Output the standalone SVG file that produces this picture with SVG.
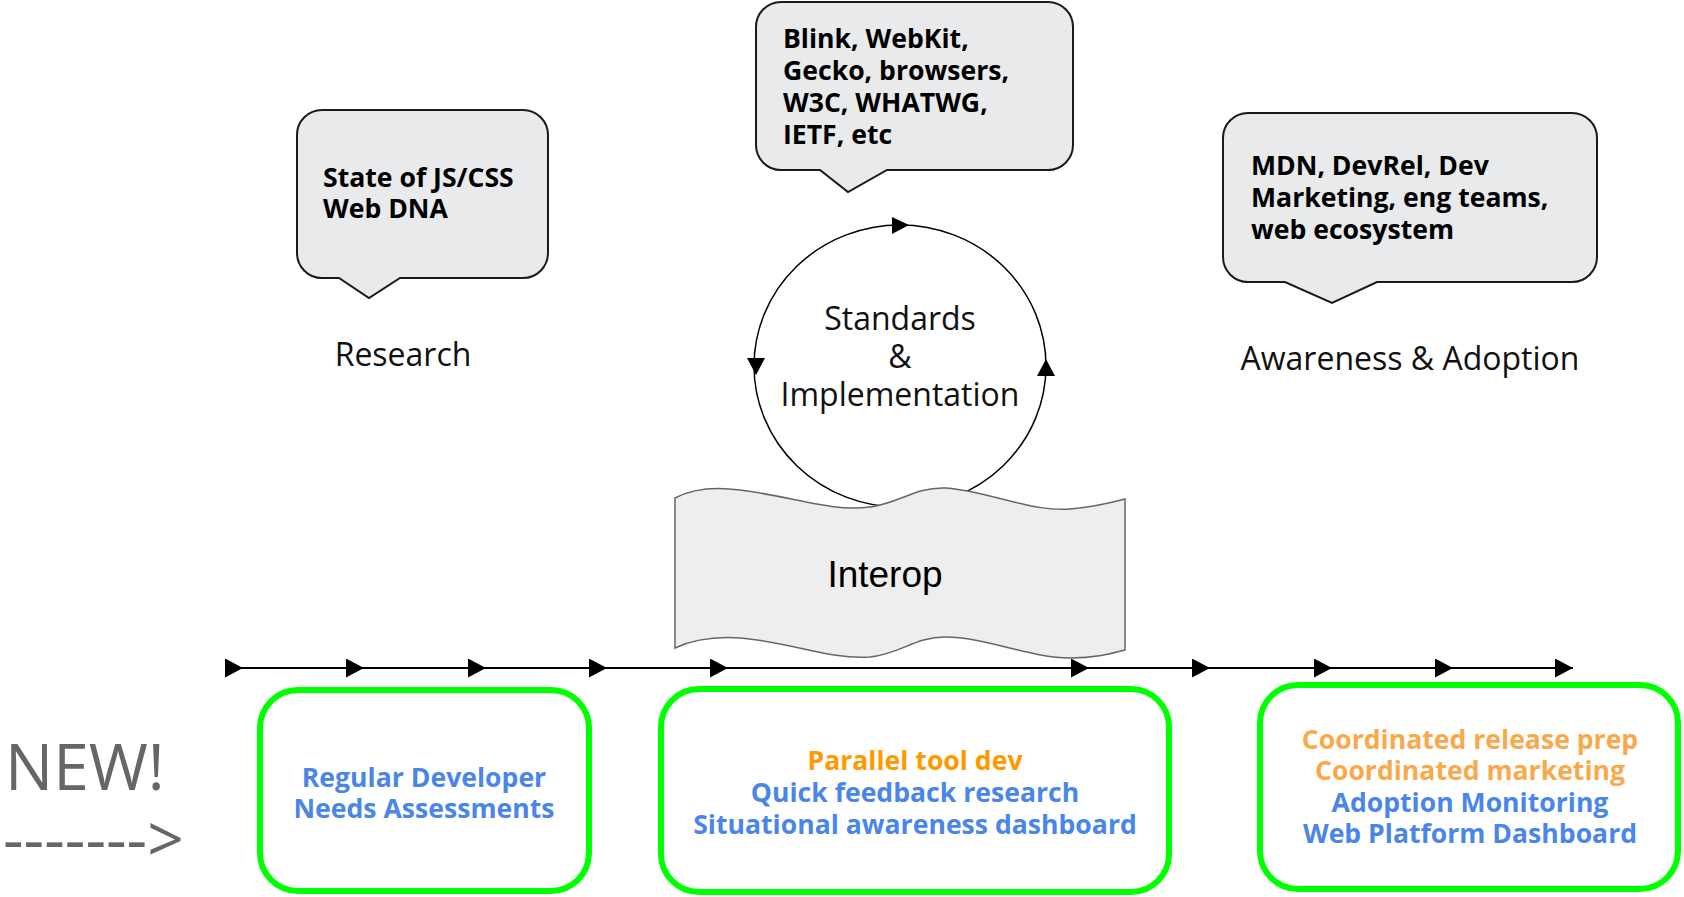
<svg xmlns="http://www.w3.org/2000/svg" width="1684" height="897" viewBox="0 0 1684 897">
<defs>
<style>
.callout{fill:#e8eaeb;stroke:#1a1a1a;stroke-width:2}
.ctext{font-family:'Open Sans','Noto Sans',sans-serif;font-weight:700;font-size:26.6px;fill:#000}
.label{font-family:'Open Sans','Noto Sans',sans-serif;font-size:32px;fill:#111;text-anchor:middle}
.gbox{fill:#fff;stroke:#00ff00;stroke-width:6}
.btext{font-family:'Open Sans','Noto Sans',sans-serif;font-weight:700;font-size:26.6px;text-anchor:middle}
.blue{fill:#4a86e8}
.orange{fill:#ff9900}
.lorange{fill:#f9a94b}
.new{font-family:'Open Sans','Noto Sans',sans-serif;font-size:64px;fill:#666}
.ah{fill:#000}
</style>
<marker id="tri" markerUnits="userSpaceOnUse" markerWidth="18" markerHeight="19" refX="18" refY="9.5" orient="auto" viewBox="0 0 18 19">
<path d="M0,0 L18,9.5 L0,19 Z" fill="#000"/>
</marker>
</defs>
<rect width="1684" height="897" fill="#fff"/>

<g id="callout-research">
<path class="callout" d="M322,110 H523 A25,25 0 0 1 548,135 V253 A25,25 0 0 1 523,278 H400 L369,298 L339,278 H322 A25,25 0 0 1 297,253 V135 A25,25 0 0 1 322,110 Z"/>
<text class="ctext" x="323" y="187">State of JS/CSS</text>
<text class="ctext" x="323" y="218">Web DNA</text>
</g>

<g id="callout-standards">
<path class="callout" d="M781,2 H1048 A25,25 0 0 1 1073,27 V145 A25,25 0 0 1 1048,170 H887 L848,192 L820,170 H781 A25,25 0 0 1 756,145 V27 A25,25 0 0 1 781,2 Z"/>
<text class="ctext" x="783" y="48">Blink, WebKit,</text>
<text class="ctext" x="783" y="80">Gecko, browsers,</text>
<text class="ctext" x="783" y="112">W3C, WHATWG,</text>
<text class="ctext" x="783" y="144">IETF, etc</text>
</g>

<g id="callout-awareness">
<path class="callout" d="M1248,113 H1572 A25,25 0 0 1 1597,138 V257 A25,25 0 0 1 1572,282 H1377 L1332,303 L1285,282 H1248 A25,25 0 0 1 1223,257 V138 A25,25 0 0 1 1248,113 Z"/>
<text class="ctext" x="1251" y="175">MDN, DevRel, Dev</text>
<text class="ctext" x="1251" y="207">Marketing, eng teams,</text>
<text class="ctext" x="1251" y="239">web ecosystem</text>
</g>

<g id="label-research">
<text class="label" x="403" y="366">Research</text>
</g>
<g id="label-awareness">
<text class="label" x="1410" y="370">Awareness &amp; Adoption</text>
</g>

<g id="cycle">
<ellipse cx="900" cy="366" rx="146" ry="141" fill="none" stroke="#000" stroke-width="1.5"/>
<polygon class="ah" points="892,217 909,225 892,234"/>
<polygon class="ah" points="747,358 765,358 756,375"/>
<polygon class="ah" points="1037,376 1055,376 1046,359"/>
<text class="label" x="900" y="330">Standards</text>
<text class="label" x="900" y="368">&amp;</text>
<text class="label" x="900" y="406">Implementation</text>
</g>

<g id="interop">
<path d="M675,498 C690,490 710,486 740,490 C790,496 830,512 870,507 C900,503 915,487 945,488 C985,490 1030,512 1070,509 C1095,507 1110,503 1125,499 L1125,650 C1110,654 1095,658 1070,658 C1030,658 985,637 945,637 C915,637 900,654 870,657 C830,660 790,642 740,638 C710,636 690,641 675,648 Z" fill="#eeeeee" stroke="#666" stroke-width="1.5"/>
<text x="885" y="587" font-family="'Liberation Sans',Arial,sans-serif" font-size="37" text-anchor="middle" fill="#000">Interop</text>
</g>

<g id="connectors">
<polyline points="226,668 243,668 364,668 486,668 607,668 728,668 1089,668 1210,668 1332,668 1453,668 1573,668" fill="none" stroke="#000" stroke-width="1.8" marker-mid="url(#tri)" marker-end="url(#tri)"/>
</g>

<g id="box-research">
<rect class="gbox" x="260" y="690" width="329" height="201" rx="38"/>
<text class="btext blue" x="424" y="787">Regular Developer</text>
<text class="btext blue" x="424" y="818">Needs Assessments</text>
</g>

<g id="box-standards">
<rect class="gbox" x="661" y="689" width="508" height="203" rx="38"/>
<text class="btext orange" x="915" y="770">Parallel tool dev</text>
<text class="btext blue" x="915" y="802">Quick feedback research</text>
<text class="btext blue" x="915" y="834">Situational awareness dashboard</text>
</g>

<g id="box-awareness">
<rect class="gbox" x="1260" y="685" width="418" height="204" rx="38"/>
<text class="btext lorange" x="1470" y="749">Coordinated release prep</text>
<text class="btext lorange" x="1470" y="780">Coordinated marketing</text>
<text class="btext blue" x="1470" y="812">Adoption Monitoring</text>
<text class="btext blue" x="1470" y="843">Web Platform Dashboard</text>
</g>

<g id="new-label">
<text class="new" x="5" y="790">NEW!</text>
<text class="new" x="3" y="862">-------&gt;</text>
</g>
</svg>
